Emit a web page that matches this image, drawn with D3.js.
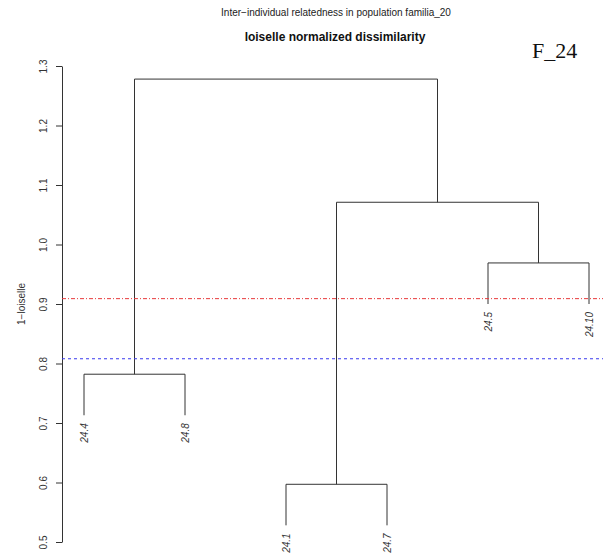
<!DOCTYPE html>
<html>
<head>
<meta charset="utf-8">
<script src="https://cdn.jsdelivr.net/npm/d3@7"></script>
<style>
body { margin: 0; background: #fff; }
</style>
</head>
<body>
<svg id="chart" width="605" height="553" font-family="Liberation Sans, Arial, sans-serif"></svg>
<script>
var svg = d3.select("#chart"),
    width = +svg.attr("width"),
    height = +svg.attr("height");

// leaves in plotting order
var leafLabels = ["24.4", "24.8", "24.1", "24.7", "24.5", "24.10"];
// hclust-style merges: negative = leaf (1-based in order), positive = earlier merge
var mergeA = [-3, -1, -5, 1, 2];
var mergeB = [-4, -2, -6, 3, 4];
var mergeHeight = [0.597, 0.782, 0.969, 1.071, 1.278];
var hang = 0.069;
var cutRed = 0.909;
var cutBlue = 0.808;
var yTicks = [0.5, 0.6, 0.7, 0.8, 0.9, 1.0, 1.1, 1.2, 1.3];

var x = d3.scaleLinear().domain([1, 6]).range([84, 589]);
var y = d3.scaleLinear().domain([0.5, 1.3]).range([542, 66]);

// titles
svg.append("text")
    .attr("x", 336).attr("y", 16)
    .attr("text-anchor", "middle")
    .attr("font-size", 10)
    .attr("fill", "#222")
    .text("Inter\u2212individual relatedness in population familia_20");
svg.append("text")
    .attr("x", 335).attr("y", 41)
    .attr("text-anchor", "middle")
    .attr("font-size", 12)
    .attr("font-weight", "bold")
    .attr("fill", "#111")
    .text("loiselle normalized dissimilarity");
svg.append("text")
    .attr("x", 532).attr("y", 58)
    .style("font-family", "'Liberation Serif', 'Times New Roman', serif")
    .attr("font-size", 22)
    .attr("fill", "#111")
    .text("F_24");

// y axis
var axis = svg.append("g")
    .attr("transform", "translate(62,0)")
    .call(d3.axisLeft(y).tickValues(yTicks).tickFormat(d3.format(".1f")).tickSize(6).tickSizeOuter(0));
axis.select(".domain").attr("stroke", "#333");
axis.selectAll(".tick line").attr("stroke", "#333");
axis.selectAll(".tick text")
    .attr("font-size", 10)
    .attr("font-family", null)
    .attr("fill", "#333")
    .attr("text-anchor", "middle")
    .attr("transform", "translate(-19,0) rotate(-90)")
    .attr("x", 0).attr("y", 0).attr("dy", "0.35em");
axis.attr("font-family", null);

svg.append("text")
    .attr("transform", "translate(25," + y(0.9) + ") rotate(-90)")
    .attr("text-anchor", "middle")
    .attr("font-size", 10)
    .attr("fill", "#333")
    .text("1\u2212loiselle");

// build dendrogram geometry
var nodes = [];
function pos(ref) {
    if (ref < 0) return { x: x(-ref), h: null };
    return nodes[ref - 1];
}
var g = svg.append("g").attr("fill", "none").attr("stroke", "#333").attr("stroke-width", 1);
mergeHeight.forEach(function(h, k) {
    var a = pos(mergeA[k]), b = pos(mergeB[k]);
    var ya = a.h === null ? h - hang : a.h;
    var yb = b.h === null ? h - hang : b.h;
    g.append("path")
        .attr("d", "M" + a.x + "," + y(ya) + "V" + y(h) + "H" + b.x + "V" + y(yb));
    nodes.push({ x: (a.x + b.x) / 2, h: h });
});

// leaf labels
var leafHeight = {};
mergeHeight.forEach(function(h, k) {
    [mergeA[k], mergeB[k]].forEach(function(r) { if (r < 0) leafHeight[-r] = h - hang; });
});
svg.append("g").selectAll("text")
    .data(leafLabels)
    .enter().append("text")
    .attr("transform", function(d, i) {
        return "translate(" + (x(i + 1) + 3.5) + "," + (y(leafHeight[i + 1]) + 8) + ") rotate(-90)";
    })
    .attr("text-anchor", "end")
    .attr("font-size", 10)
    .attr("font-style", "italic")
    .attr("fill", "#333")
    .text(function(d) { return d; });

// cut lines
svg.append("line")
    .attr("x1", 62).attr("x2", 603)
    .attr("y1", y(cutRed)).attr("y2", y(cutRed))
    .attr("stroke", "#e8393b").attr("stroke-width", 1)
    .attr("stroke-dasharray", "4,2,1,2");
svg.append("line")
    .attr("x1", 62).attr("x2", 603)
    .attr("y1", y(cutBlue)).attr("y2", y(cutBlue))
    .attr("stroke", "#3a3aee").attr("stroke-width", 1.2)
    .attr("stroke-dasharray", "3,3");
</script>
</body>
</html>
